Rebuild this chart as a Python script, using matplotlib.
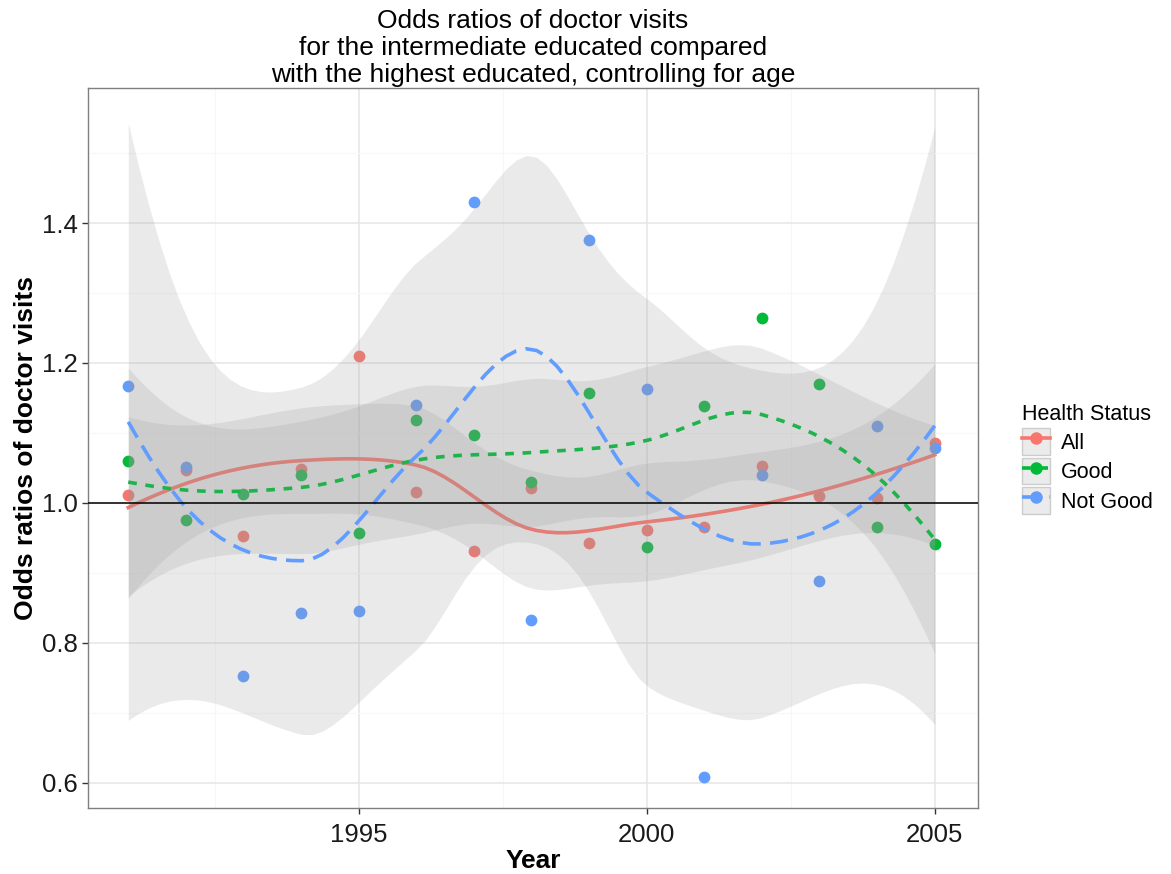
import numpy as np
import matplotlib
matplotlib.use("Agg")
import matplotlib.pyplot as plt
from matplotlib.lines import Line2D
from matplotlib.patches import Patch

plt.rcParams['font.family'] = ['Liberation Sans', 'DejaVu Sans']

years = np.arange(1991, 2006)
groups = ['All', 'Good', 'Not Good']

odds_all = [1.011, 1.047, 0.953, 1.049, 1.210, 1.015, 0.932, 1.021,
            0.943, 0.961, 0.966, 1.053, 1.010, 1.007, 1.085]
odds_good = [1.060, 0.976, 1.013, 1.040, 0.957, 1.119, 1.097, 1.030,
             1.157, 0.937, 1.139, 1.264, 1.170, 0.966, 0.942]
odds_notgood = [1.167, 1.051, 0.753, 0.843, 0.846, 1.140, 1.430, 0.833,
                1.376, 1.163, 0.609, 1.040, 0.889, 1.110, 1.078]

colors = {'All': '#F8766D', 'Good': '#00BA38', 'Not Good': '#619CFF'}
dashes = {'All': None, 'Good': (2.4, 2.4), 'Not Good': (5.0, 2.6)}


def _erfinv(y):
    a = 0.147
    ln = np.log(1 - y * y)
    t = 2 / (np.pi * a) + ln / 2
    return np.sign(y) * np.sqrt(np.sqrt(t * t - ln / a) - t)


def t_quantile(p, df):
    # Cornish-Fisher expansion of the Student t quantile
    z = np.sqrt(2) * _erfinv(2 * p - 1)
    g1 = (z**3 + z) / 4
    g2 = (5 * z**5 + 16 * z**3 + 3 * z) / 96
    g3 = (3 * z**7 + 19 * z**5 + 17 * z**3 - 15 * z) / 384
    return z + g1 / df + g2 / df**2 + g3 / df**3


def local_rows(x, x0, q, degree=2):
    # rows of the local quadratic fit giving value and slope at x0
    d = np.abs(x - x0)
    h = np.sort(d)[q - 1]
    w = np.clip(1 - (d / h) ** 3, 0, None) ** 3
    X = np.vander(x - x0, degree + 1, increasing=True)
    XtW = X.T * w
    B = np.linalg.solve(XtW @ X, XtW)
    return B[0], B[1]


def kd_vertices(x, fc):
    xs = np.sort(x)
    mu = 0.005 * (xs[-1] - xs[0])
    verts = {xs[0] - mu, xs[-1] + mu}

    def split(pts):
        if len(pts) <= fc:
            return
        m = (len(pts) + 1) // 2
        verts.add(pts[m - 1])
        split(pts[:m])
        split(pts[m:])

    split(xs)
    return np.array(sorted(verts))


def loess_operator(x, xs, span=0.75, cell=0.2):
    # kd-tree vertices with cubic Hermite interpolation in between
    n = len(x)
    q = int(np.floor(n * span))
    fc = int(np.floor(n * span * cell))
    verts = kd_vertices(x, fc)
    vals, slopes = zip(*[local_rows(x, v, q) for v in verts])
    vals, slopes = np.array(vals), np.array(slopes)
    rows = []
    for x0 in xs:
        i = min(np.searchsorted(verts, x0, side='right') - 1, len(verts) - 2)
        h = verts[i + 1] - verts[i]
        t = (x0 - verts[i]) / h
        h00 = 2 * t**3 - 3 * t**2 + 1
        h10 = t**3 - 2 * t**2 + t
        h01 = -2 * t**3 + 3 * t**2
        h11 = t**3 - t**2
        rows.append(h00 * vals[i] + h10 * h * slopes[i]
                    + h01 * vals[i + 1] + h11 * h * slopes[i + 1])
    return np.array(rows)


def loess_fit(x, y, n_out=80):
    x = np.asarray(x, float)
    y = np.asarray(y, float)
    xs = np.linspace(x.min(), x.max(), n_out)
    L = loess_operator(x, x)
    R = np.eye(len(x)) - L
    RR = R.T @ R
    d1 = np.trace(RR)
    d2 = np.trace(RR @ RR)
    s = np.sqrt(np.sum((y - L @ y) ** 2) / d1)
    Ls = loess_operator(x, xs)
    fit = Ls @ y
    se = s * np.sqrt(np.sum(Ls ** 2, axis=1))
    t = t_quantile(0.975, d1 ** 2 / d2)
    return xs, fit, fit - t * se, fit + t * se


fig = plt.figure(figsize=(11.71, 8.74), dpi=100)
ax = fig.add_axes([0.0751, 0.0755, 0.7600, 0.8238])

series = {'All': odds_all, 'Good': odds_good, 'Not Good': odds_notgood}

for g in groups:
    ax.scatter(years, series[g], s=72, color=colors[g], zorder=2, linewidths=0)

for g in groups:
    xs, fit, lo, hi = loess_fit(years, series[g])
    ax.fill_between(xs, lo, hi, color='#999999', alpha=0.2, linewidth=0, zorder=3)
    line, = ax.plot(xs, fit, color=colors[g], lw=2.6, zorder=3)
    if dashes[g]:
        line.set_dashes(dashes[g])

ax.axhline(1.0, color='black', lw=1.1, zorder=4)

ax.set_xlim(1990.3, 2005.75)
ax.set_ylim(0.564, 1.593)
ax.set_xticks([1995, 2000, 2005])
ax.set_xticks([1992.5, 1997.5, 2002.5], minor=True)
ax.set_yticks([0.6, 0.8, 1.0, 1.2, 1.4])
ax.set_yticks([0.7, 0.9, 1.1, 1.3, 1.5], minor=True)
ax.set_yticklabels(['0.6', '0.8', '1.0', '1.2', '1.4'])
ax.grid(which='major', color='#E5E5E5', lw=1.1, zorder=0)
ax.grid(which='minor', color='#F7F7F7', lw=0.8, zorder=0)
ax.set_axisbelow(True)
for sp in ax.spines.values():
    sp.set_color('#7F7F7F')
    sp.set_linewidth(1.0)
ax.tick_params(which='major', length=4, width=1, color='#333333',
               labelsize=18.5, labelcolor='#1A1A1A', pad=3)
ax.tick_params(axis='x', which='major', pad=7)
ax.tick_params(which='minor', length=0)

ax.set_xlabel('Year', fontsize=19, fontweight='bold', labelpad=1)
ax.set_ylabel('Odds ratios of doctor visits', fontsize=19, fontweight='bold', labelpad=3)
ax.set_title('Odds ratios of doctor visits\nfor the intermediate educated compared\n'
             'with the highest educated, controlling for age',
             fontsize=19, linespacing=1.17, pad=4)

handles = []
for g in groups:
    key_bg = Patch(facecolor='#EBEBEB', edgecolor='#CCCCCC', linewidth=1)
    ln = Line2D([], [], color=colors[g], lw=2.6, marker='o', markersize=8)
    if dashes[g]:
        ln.set_dashes(dashes[g])
    handles.append((key_bg, ln))

leg = ax.legend(handles, groups, title='Health Status', loc='center left',
                bbox_to_anchor=(1.04, 0.485), frameon=False, fontsize=15.5,
                title_fontsize=15.5, handlelength=1.3, handleheight=1.5,
                handletextpad=0.5, labelspacing=0.15, borderaxespad=0)
leg._legend_box.align = 'left'

fig.savefig('out.png', dpi=100)
